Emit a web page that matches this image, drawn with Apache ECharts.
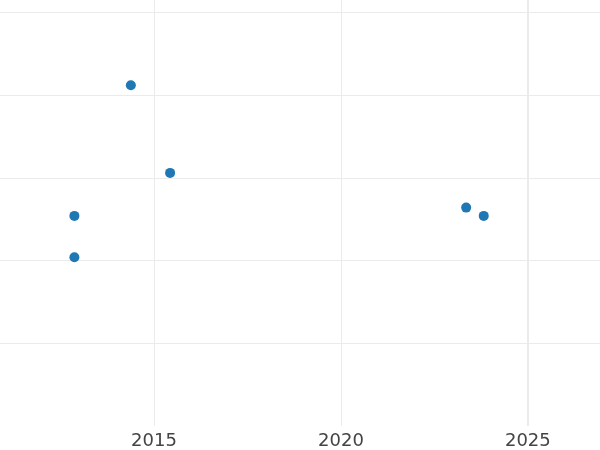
<!DOCTYPE html>
<html>
<head>
<meta charset="utf-8">
<script src="https://cdn.jsdelivr.net/npm/echarts@6/dist/echarts.min.js"></script>
<style>
  html, body { margin: 0; padding: 0; background: #fff; }
  #container { width: 600px; height: 450px; }
</style>
</head>
<body>
<div id="container"></div>
<script>
// point data (x in years, y in grid units)
var years = [2012.87, 2012.87, 2014.38, 2015.43, 2023.35, 2023.82];
var values = [2.04, 2.54, 4.12, 3.06, 2.64, 2.54];
var xRange = [2010.88, 2026.93];
var yRange = [0, 5.15];
var markYear = 2025;

var points = [];
years.forEach(function (y, i) {
  points.push([y, values[i]]);
});

var myChart = echarts.init(document.getElementById("container"));
myChart.setOption({
  animation: false,
  grid: {
    left: 0,
    right: 0,
    top: 0,
    bottom: 23
  },
  xAxis: {
    type: "value",
    min: xRange[0],
    max: xRange[1],
    minInterval: 5,
    maxInterval: 5,
    axisLine: { show: false },
    axisTick: { show: false },
    axisLabel: {
      showMinLabel: false,
      showMaxLabel: false,
      margin: 6,
      fontSize: 18,
      fontFamily: "DejaVu Sans",
      color: "#444",
      formatter: function (v) {
        return String(v);
      }
    },
    splitLine: {
      show: true,
      showMinLine: false,
      showMaxLine: false,
      lineStyle: { color: "#ebebeb", width: 1 }
    }
  },
  yAxis: {
    type: "value",
    min: yRange[0],
    max: yRange[1],
    minInterval: 1,
    maxInterval: 1,
    axisLine: { show: false },
    axisTick: { show: false },
    axisLabel: { show: false },
    splitLine: {
      show: true,
      showMinLine: false,
      showMaxLine: false,
      lineStyle: { color: "#ebebeb", width: 1 }
    }
  },
  series: [
    {
      type: "scatter",
      data: points,
      symbolSize: 10,
      itemStyle: { color: "#1f77b4", opacity: 1 },
      markLine: {
        silent: true,
        symbol: "none",
        label: { show: false },
        lineStyle: { color: "#ebebeb", width: 2, type: "solid" },
        data: [{ xAxis: markYear }]
      }
    }
  ]
});
</script>
</body>
</html>
